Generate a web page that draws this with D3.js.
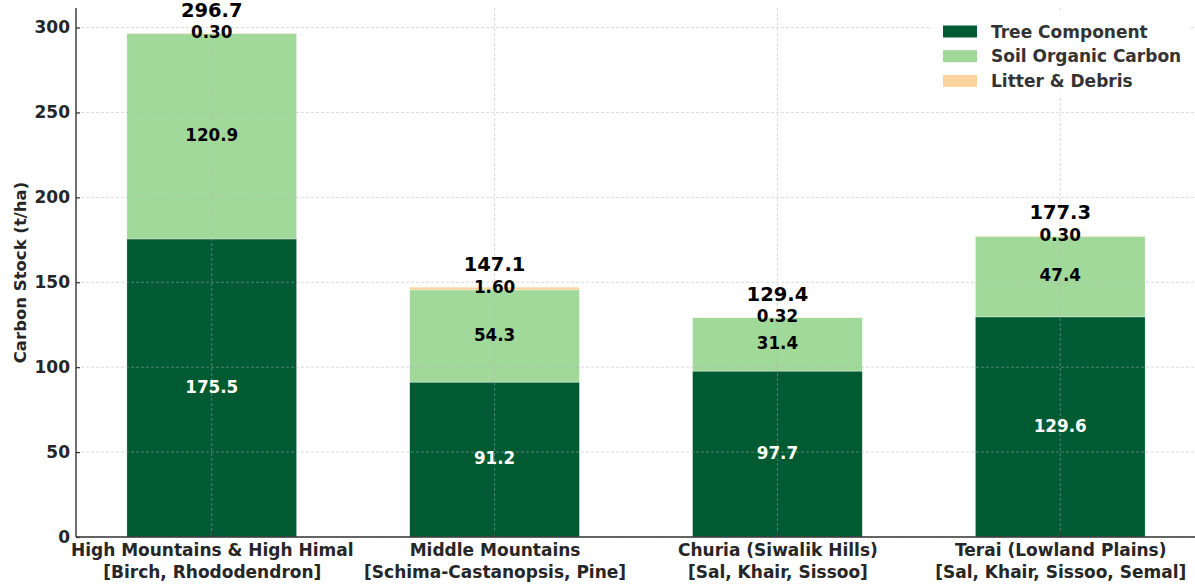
<!DOCTYPE html>
<html>
<head>
<meta charset="utf-8">
<script src="https://cdn.jsdelivr.net/npm/d3@7"></script>
<style>
  html, body { margin: 0; padding: 0; background: #fff; }
  svg { display: block; font-family: "DejaVu Sans", sans-serif; }
</style>
</head>
<body>
<svg id="chart" width="1195" height="584"></svg>
<script>
const regions = ["High Mountains & High Himal", "Middle Mountains", "Churia (Siwalik Hills)", "Terai (Lowland Plains)"];
const species = ["[Birch, Rhododendron]", "[Schima-Castanopsis, Pine]", "[Sal, Khair, Sissoo]", "[Sal, Khair, Sissoo, Semal]"];
const treeComponent = [175.5, 91.2, 97.7, 129.6];
const soilOrganicCarbon = [120.9, 54.3, 31.4, 47.4];
const litterDebris = [0.30, 1.60, 0.32, 0.30];
const yTicks = [0, 50, 100, 150, 200, 250, 300];
const seriesNames = ["Tree Component", "Soil Organic Carbon", "Litter & Debris"];
const seriesColors = ["#005a32", "#a1d99b", "#fdd49e"];
const labelColors = ["#ffffff", "#000000", "#000000"];
const labelFormats = [".1f", ".1f", ".2f"];

const svg = d3.select("#chart");
const m = { left: 76, right: 1196, top: 8, bottom: 537 };
const x = d3.scaleLinear().domain([-0.48, 3.48]).range([m.left, m.right]);
const y = d3.scaleLinear().domain([0, 311.5]).range([m.bottom, m.top]);
const barW = 0.6;

const seriesVals = [treeComponent, soilOrganicCarbon, litterDebris];
const rows = regions.map((r, i) => {
  let base = 0;
  const segs = seriesVals.map((vals, s) => {
    const seg = { s, i, y0: base, y1: base + vals[i], v: vals[i] };
    base += vals[i];
    return seg;
  });
  return { i, total: base, segs };
});

// bars
const gBars = svg.append("g");
rows.forEach(row => {
  gBars.selectAll(null).data(row.segs).enter().append("rect")
    .attr("x", d => x(d.i - barW / 2))
    .attr("width", d => x(d.i + barW / 2) - x(d.i - barW / 2))
    .attr("y", d => y(d.y1))
    .attr("height", d => y(d.y0) - y(d.y1))
    .attr("fill", d => seriesColors[d.s])
    .attr("stroke", "#ffffff").attr("stroke-width", 0.5).attr("stroke-opacity", 0.6);
});

// grid (drawn over bars)
const gGrid = svg.append("g");
gGrid.selectAll(null).data(yTicks).enter().append("line")
  .attr("x1", m.left).attr("x2", m.right)
  .attr("y1", d => y(d)).attr("y2", d => y(d))
  .attr("stroke", "#b0b0b0").attr("stroke-opacity", 0.6)
  .attr("stroke-width", 0.8).attr("stroke-dasharray", "3,2");
gGrid.selectAll(null).data(regions.map((r, i) => i)).enter().append("line")
  .attr("x1", d => x(d)).attr("x2", d => x(d))
  .attr("y1", m.top).attr("y2", m.bottom)
  .attr("stroke", "#b0b0b0").attr("stroke-opacity", 0.6)
  .attr("stroke-width", 0.8).attr("stroke-dasharray", "3,2");

// segment labels
const gLab = svg.append("g").attr("font-weight", "bold").attr("text-anchor", "middle");
rows.forEach(row => {
  gLab.selectAll(null).data(row.segs).enter().append("text")
    .attr("x", d => x(d.i))
    .attr("y", d => (y(d.y0) + y(d.y1)) / 2 + 4.6)
    .attr("font-size", "16.8px")
    .attr("fill", d => labelColors[d.s])
    .text(d => d3.format(labelFormats[d.s])(d.v));
});
gLab.selectAll(null).data(rows).enter().append("text")
  .attr("x", d => x(d.i))
  .attr("y", d => y(d.total) - 16.5)
  .attr("font-size", "19.5px")
  .attr("fill", "#000")
  .text(d => d3.format(".1f")(d.total));

// axes
const yAxis = d3.axisLeft(y).tickValues(yTicks).tickSize(-4).tickPadding(6);
const gy = svg.append("g").attr("transform", `translate(${m.left},0)`).call(yAxis);
gy.select(".domain").attr("stroke", "#333").attr("stroke-width", 1.4).attr("d", `M0,${m.top}V${m.bottom}`);
gy.selectAll(".tick line").attr("stroke", "#333").attr("stroke-width", 1.2);
gy.selectAll(".tick text").attr("font-family", "DejaVu Sans").attr("font-size", "17px")
  .attr("font-weight", "bold").attr("fill", "#262626");

const xAxis = d3.axisBottom(x).tickValues([0, 1, 2, 3]).tickSize(-4).tickFormat("");
const gx = svg.append("g").attr("transform", `translate(0,${m.bottom})`).call(xAxis);
gx.select(".domain").attr("stroke", "#333").attr("stroke-width", 1.4).attr("d", `M${m.left},0H${m.right}`);
gx.selectAll(".tick line").attr("stroke", "#333").attr("stroke-width", 1.2);
const xl = gx.selectAll(".tick").append("text")
  .attr("text-anchor", "middle").attr("font-family", "DejaVu Sans")
  .attr("font-size", "17px").attr("font-weight", "bold").attr("fill", "#262626");
xl.append("tspan").attr("x", 0).attr("y", 19).text(d => regions[d]);
xl.append("tspan").attr("x", 0).attr("y", 41).text(d => species[d]);

// y label
svg.append("text")
  .attr("transform", `translate(26,${(m.top + m.bottom) / 2}) rotate(-90)`)
  .attr("text-anchor", "middle").attr("font-size", "16.5px").attr("font-weight", "bold")
  .attr("fill", "#262626").text("Carbon Stock (t/ha)");

// legend
const lg = svg.append("g");
lg.append("rect").attr("x", 932).attr("y", 12).attr("width", 258).attr("height", 84)
  .attr("fill", "#ffffff").attr("fill-opacity", 0.8);
const li = lg.selectAll(null).data(seriesNames).enter().append("g")
  .attr("transform", (d, i) => `translate(943,${31.5 + i * 24.7})`);
li.append("rect").attr("x", 0).attr("y", -6).attr("width", 34).attr("height", 12)
  .attr("fill", (d, i) => seriesColors[i]);
li.append("text").attr("x", 48).attr("y", 6).attr("font-size", "17px").attr("font-weight", "bold")
  .attr("fill", "#333").text(d => d);
</script>
</body>
</html>
